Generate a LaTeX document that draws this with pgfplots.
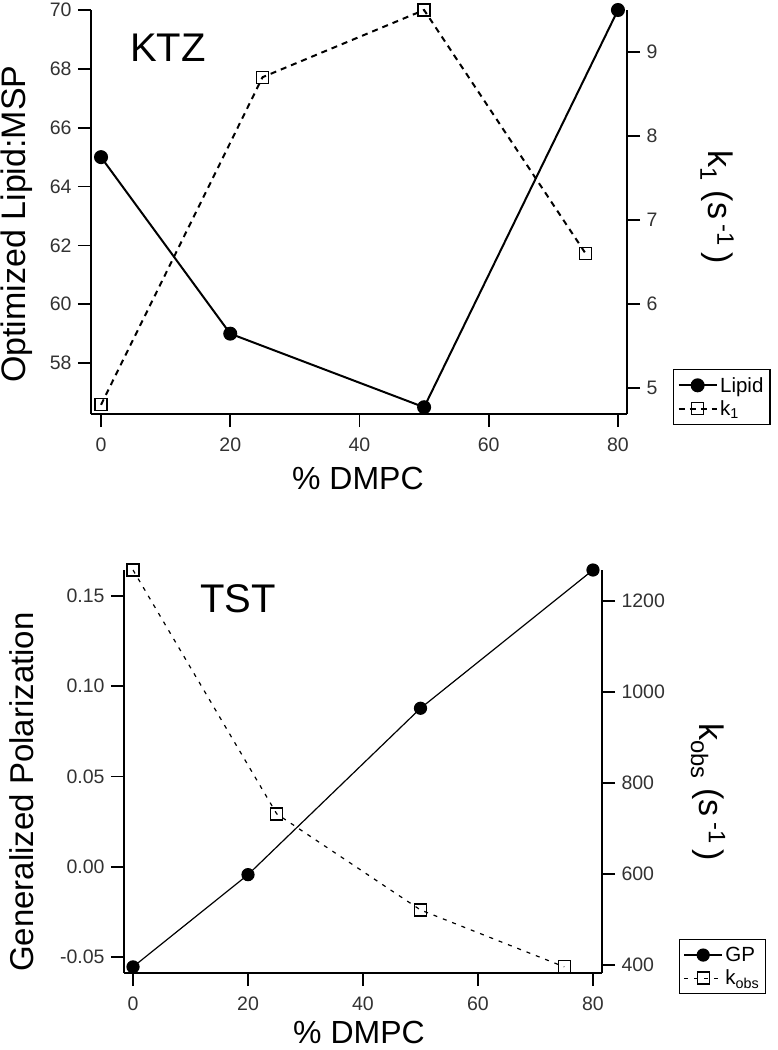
\documentclass[border=0pt]{standalone}
\usepackage{pgfplots}
\pgfplotsset{compat=1.18}
\usepackage{fontspec}
\setmainfont{Liberation Sans}
\definecolor{tickgray}{RGB}{50,50,50}
\begin{document}
\begin{tikzpicture}
\path[use as bounding box] (0,0) rectangle (778pt,-1050pt);
\pgfplotsset{
  common/.style={
    scale only axis, clip=false,
    xmin=-1.55, xmax=81.4,
    axis line style={line width=1.6pt},
    tick style={line width=1.6pt, black},
    major tick length=13pt,
    tick align=outside,
    ticklabel style={font=\fontsize{19.5}{21}\selectfont, text=tickgray},
    /pgf/number format/assume math mode=true,
    /pgf/number format/fixed,
    /pgf/number format/1000 sep={},
    label style={font=\fontsize{35}{40}\selectfont},
    legend style={draw=black, line width=1.3pt, font=\fontsize{20.5}{22}\selectfont, inner sep=4pt,
      nodes={inner xsep=2.5pt, inner ysep=3.5pt}},
    legend cell align=left,
    legend image code/.code={\draw[mark repeat=2,mark phase=2] plot coordinates {(0pt,0pt)(19pt,0pt)(38pt,0pt)};},
  },
  leftax/.style={axis y line*=left, axis x line*=bottom, xtick={0,20,...,80},
    xticklabel style={yshift=-7pt}, yticklabel style={xshift=-3pt}},
  rightax/.style={axis y line*=right, axis x line=none, yticklabel style={xshift=3pt}},
}
% ---------- top panel ----------
\begin{axis}[common, leftax, at={(91pt,-10pt)}, anchor=north west, width=536pt, height=404pt,
  ymin=56.27, ymax=70, ytick={58,60,...,70},
  xlabel={\% DMPC}, ylabel={Optimized Lipid:MSP},
  xlabel style={at={(axis description cs:0.498,-0.186)}, anchor=base, inner sep=0pt, font=\fontsize{32}{36}\selectfont},
  ylabel style={at={(axis description cs:-0.138,0.47)}, anchor=center, font=\fontsize{34}{38}\selectfont}]
\addplot[black, line width=2pt, mark=*, mark size=6pt] coordinates {(0,65)(20,59)(50,56.5)(80,70)};
\node[font=\fontsize{40}{44}\selectfont] at (axis description cs:0.1437,0.906) {KTZ};
\end{axis}
\begin{axis}[common, rightax, at={(91pt,-10pt)}, anchor=north west, width=536pt, height=404pt,
  ymin=4.69, ymax=9.5, ytick={5,...,9},
  ylabel={k\textsubscript{1} (s\,\textsuperscript{-1}\,)},
  ylabel style={at={(axis description cs:1.168,0.512)}, anchor=center, rotate=180, font=\fontsize{34}{38}\selectfont},
  legend style={at={(axis description cs:1.0858,0.1114)}, anchor=north west}]
\addlegendimage{black, line width=2pt, mark=*, mark size=6pt}
\addlegendentry{Lipid}
\addplot[black, line width=2pt, dash pattern=on 6pt off 5pt, mark=square, mark size=6pt,
  mark options={solid, line width=1.3pt}] coordinates {(0,4.8)(25,8.7)(50,9.5)(75,6.6)};
\addlegendentry{k\textsubscript{1}}
\end{axis}
% ---------- bottom panel ----------
\begin{axis}[common, leftax, at={(124pt,-570pt)}, anchor=north west, width=478pt, height=403pt,
  xmin=-1.57, xmax=81.57,
  ymin=-0.0589, ymax=0.1644, ytick={-0.05,0,0.05,0.10,0.15},
  yticklabel style={/pgf/number format/fixed zerofill, /pgf/number format/precision=2},
  xlabel={\% DMPC}, ylabel={Generalized Polarization},
  xlabel style={at={(axis description cs:0.4916,-0.176)}, anchor=base, inner sep=0pt, font=\fontsize{32}{36}\selectfont},
  ylabel style={at={(axis description cs:-0.2134,0.449)}, anchor=center, font=\fontsize{33}{37}\selectfont}]
\addplot[black, line width=1.2pt, mark=*, mark size=6pt] coordinates {(0,-0.0555)(20,-0.0044)(50,0.0878)(80,0.1644)};
\node[font=\fontsize{40}{44}\selectfont] at (axis description cs:0.2385,0.928) {TST};
\end{axis}
\begin{axis}[common, rightax, at={(124pt,-570pt)}, anchor=north west, width=478pt, height=403pt,
  xmin=-1.57, xmax=81.57,
  ymin=382.4, ymax=1268, ytick={400,600,...,1200},
  ylabel={k\textsubscript{obs} (s\,\textsuperscript{-1}\,)},
  ylabel style={at={(axis description cs:1.2218,0.449)}, anchor=center, rotate=180, font=\fontsize{34}{38}\selectfont},
  legend style={at={(axis description cs:1.161,0.0844)}, anchor=north west}]
\addlegendimage{black, line width=1.2pt, mark=*, mark size=6pt}
\addlegendentry{GP}
\addplot[black, line width=1.2pt, dash pattern=on 4pt off 6pt, mark=square, mark size=6pt,
  mark options={solid, line width=1.3pt}] coordinates {(0,1268)(25,732)(50,521)(75,396)};
\addlegendentry{k\textsubscript{obs}}
\end{axis}
\end{tikzpicture}
\end{document}
